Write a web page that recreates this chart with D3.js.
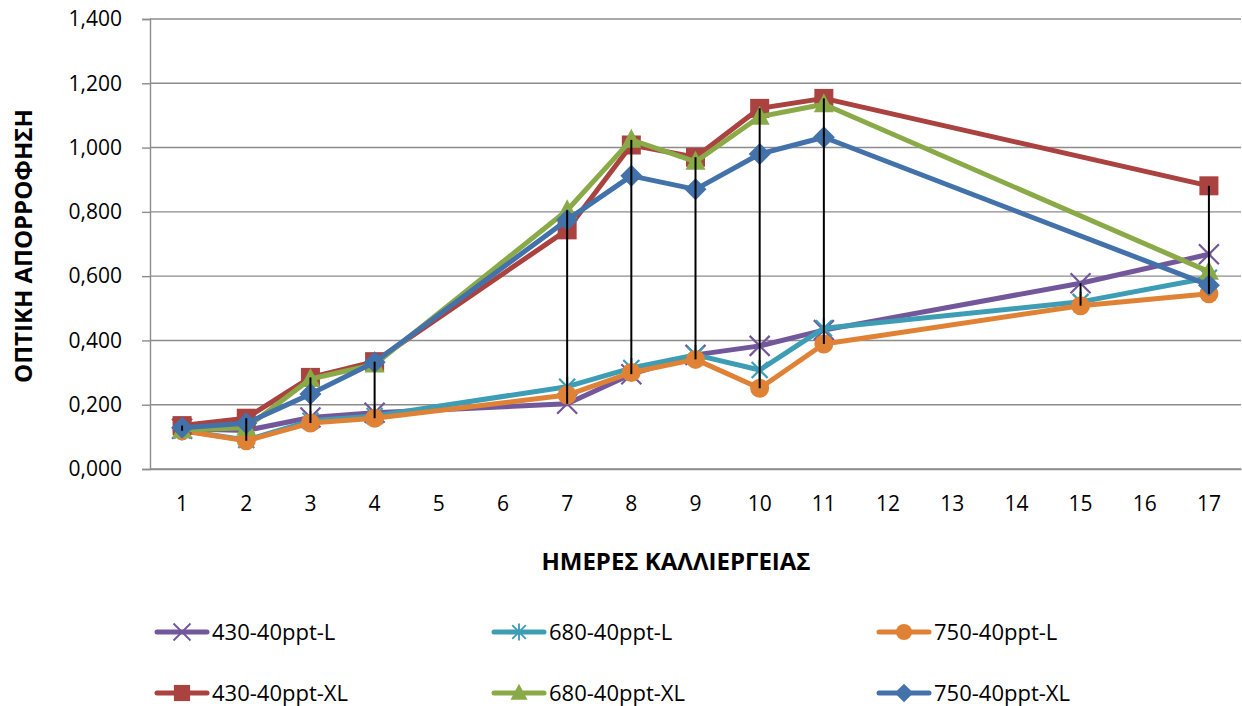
<!DOCTYPE html>
<html>
<head>
<meta charset="utf-8">
<script src="https://cdn.jsdelivr.net/npm/d3@7"></script>
<style>
  body { margin: 0; background: #fff; }
  text { font-family: "Open Sans", "Noto Sans", sans-serif; fill: #000; }
</style>
</head>
<body>
<svg id="chart" width="1242" height="706"></svg>
<script>
// Culture days (category axis) and optical absorbance per series
const days = ["1","2","3","4","5","6","7","8","9","10","11","12","13","14","15","16","17"];
const yTicks = [0, 0.2, 0.4, 0.6, 0.8, 1.0, 1.2, 1.4];

const seriesNames = ["430-40ppt-L", "680-40ppt-L", "750-40ppt-L", "430-40ppt-XL", "680-40ppt-XL", "750-40ppt-XL"];
const seriesColors = ["#73579b", "#3d9db5", "#e08236", "#aa4240", "#8aaa48", "#4372aa"];
const seriesMarkers = ["x", "star", "circle", "square", "triangle", "diamond"];

const v430L  = [0.125, 0.120, 0.160, 0.175, null, null, 0.203, 0.295, 0.355, 0.383, 0.432, null, null, null, 0.578, null, 0.668];
const v680L  = [0.120, 0.090, 0.150, 0.165, null, null, 0.256, 0.314, 0.355, 0.308, 0.438, null, null, null, 0.520, null, 0.595];
const v750L  = [0.119, 0.088, 0.143, 0.158, null, null, 0.230, 0.300, 0.341, 0.251, 0.389, null, null, null, 0.508, null, 0.545];
const v430XL = [0.135, 0.158, 0.285, 0.334, null, null, 0.744, 1.008, 0.970, 1.122, 1.153, null, null, null, null, null, 0.881];
const v680XL = [0.121, 0.128, 0.280, 0.325, null, null, 0.805, 1.024, 0.956, 1.096, 1.135, null, null, null, null, null, 0.614];
const v750XL = [0.128, 0.142, 0.233, 0.332, null, null, 0.775, 0.912, 0.870, 0.980, 1.032, null, null, null, null, null, 0.572];

const seriesValues = [v430L, v680L, v750L, v430XL, v680XL, v750XL];

const series = seriesNames.map((name, i) => ({
  name, color: seriesColors[i], marker: seriesMarkers[i],
  points: days.map((d, j) => ({ day: d, value: seriesValues[i][j] })).filter(p => p.value !== null)
}));

const svg = d3.select("#chart");
const plot = { left: 150, right: 1241, top: 19, bottom: 469 };

const x = d3.scaleBand().domain(days).range([plot.left, plot.right]);
const cx = d => x(d) + x.bandwidth() / 2;
const y = d3.scaleLinear().domain([0, 1.4]).range([plot.bottom, plot.top]);

const locale = d3.formatLocale({ decimal: ",", thousands: ".", grouping: [3], currency: ["", "€"] });
const fmt = locale.format(".3f");

const gridColor = "#8c8c8c";

// Horizontal gridlines
svg.append("g")
  .selectAll("line").data(yTicks).join("line")
  .attr("x1", plot.left).attr("x2", plot.right)
  .attr("y1", d => y(d)).attr("y2", d => y(d))
  .attr("stroke", gridColor).attr("stroke-width", 1.4);

// Y axis
const yAxis = svg.append("g")
  .attr("transform", `translate(${plot.left},0)`)
  .call(d3.axisLeft(y).tickValues(yTicks).tickFormat(fmt).tickSize(8).tickPadding(20));
yAxis.select(".domain").attr("stroke", gridColor).attr("stroke-width", 1.4);
yAxis.selectAll(".tick line").attr("stroke", gridColor).attr("stroke-width", 1.4);
yAxis.selectAll(".tick text").attr("font-size", 21).attr("font-family", "Open Sans").attr("fill", "#000");

// X axis
const xAxis = svg.append("g")
  .attr("transform", `translate(0,${plot.bottom})`)
  .call(d3.axisBottom(x).tickSize(0).tickPadding(27));
xAxis.select(".domain").attr("stroke", gridColor).attr("stroke-width", 1.4);
xAxis.selectAll(".tick text").attr("font-size", 21).attr("font-family", "Open Sans").attr("fill", "#000");

// Axis titles
svg.append("text")
  .attr("x", 676).attr("y", 570)
  .attr("text-anchor", "middle")
  .attr("font-size", 24).attr("font-weight", "bold")
  .text("ΗΜΕΡΕΣ ΚΑΛΛΙΕΡΓΕΙΑΣ");

svg.append("text")
  .attr("transform", "translate(32,246) rotate(-90)")
  .attr("text-anchor", "middle")
  .attr("font-size", 24).attr("font-weight", "bold")
  .text("ΟΠΤΙΚΗ ΑΠΟΡΡΟΦΗΣΗ");

// Marker shapes
function drawMarker(g, type, color) {
  switch (type) {
    case "square":
      g.append("rect").attr("x", -9.5).attr("y", -9.5).attr("width", 19).attr("height", 19).attr("fill", color);
      break;
    case "diamond":
      g.append("path").attr("d", "M0,-11L11,0L0,11L-11,0Z").attr("fill", color);
      break;
    case "triangle":
      g.append("path").attr("d", "M0,-11L10,8L-10,8Z").attr("fill", color);
      break;
    case "circle":
      g.append("circle").attr("r", 9.5).attr("fill", color);
      break;
    case "x":
      g.append("path").attr("d", "M-10,-10L10,10M-10,10L10,-10").attr("stroke", color).attr("stroke-width", 2.2).attr("fill", "none");
      break;
    case "star":
      g.append("path").attr("d", "M-8,-8L8,8M-8,8L8,-8M0,-10L0,10").attr("stroke", color).attr("stroke-width", 2.2).attr("fill", "none");
      break;
  }
}

const line = d3.line().x(p => cx(p.day)).y(p => y(p.value));

// Series lines with markers, in drawing order
series.forEach(s => {
  const g = svg.append("g");
  g.append("path")
    .attr("d", line(s.points))
    .attr("fill", "none")
    .attr("stroke", s.color)
    .attr("stroke-width", 5)
    .attr("stroke-linejoin", "round")
    .attr("stroke-linecap", "round");
  g.selectAll("g.m").data(s.points).join("g")
    .attr("class", "m")
    .attr("transform", p => `translate(${cx(p.day)},${y(p.value)})`)
    .each(function () { drawMarker(d3.select(this), s.marker, s.color); });
});

// High-low lines: from the highest to the lowest value on each day
const highLow = days.map((d, j) => {
  const vals = seriesValues.map(v => v[j]).filter(v => v !== null);
  return vals.length ? { day: d, hi: d3.max(vals), lo: d3.min(vals) } : null;
}).filter(Boolean);

svg.append("g")
  .selectAll("line").data(highLow).join("line")
  .attr("x1", d => cx(d.day)).attr("x2", d => cx(d.day))
  .attr("y1", d => y(d.hi)).attr("y2", d => y(d.lo))
  .attr("stroke", "#000").attr("stroke-width", 2);

// Legend: two rows of three entries
const legendCols = [155, 492, 877];
const legendRows = [632, 693];
series.forEach((s, i) => {
  const lx = legendCols[i % 3], ly = legendRows[Math.floor(i / 3)];
  const g = svg.append("g").attr("transform", `translate(${lx},${ly})`);
  g.append("line").attr("x1", 2).attr("x2", 52).attr("y1", 0).attr("y2", 0)
    .attr("stroke", s.color).attr("stroke-width", 5).attr("stroke-linecap", "round");
  const m = g.append("g").attr("transform", "translate(27,0) scale(0.85)");
  drawMarker(m, s.marker, s.color);
  g.append("text").attr("x", 57).attr("y", 0).attr("dy", "0.35em")
    .attr("font-size", 22).text(s.name);
});
</script>
</body>
</html>
